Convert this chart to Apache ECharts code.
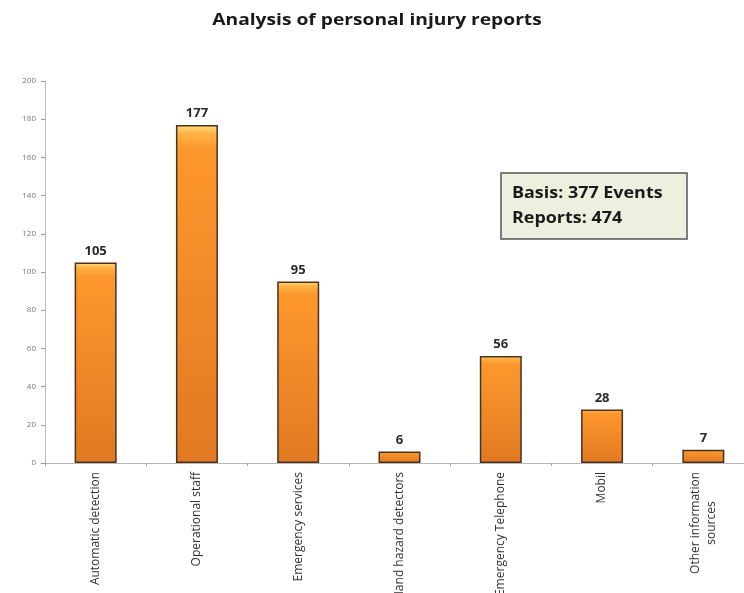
<!DOCTYPE html>
<html>
<head>
<meta charset="utf-8">
<script src="https://cdn.jsdelivr.net/npm/echarts@6/dist/echarts.min.js"></script>
<style>
  html, body { margin: 0; padding: 0; background: #fff; }
  #chart { width: 744px; height: 593px; }
</style>
</head>
<body>
<div id="chart"></div>
<script>
// Report sources and the number of personal injury reports from each
const categories = [
  'Automatic detection',
  'Operational staff',
  'Emergency services',
  'Hand hazard detectors',
  'Emergency Telephone',
  'Mobil',
  'Other information\nsources'
];
const reportCounts = [105, 177, 95, 6, 56, 28, 7];
const yTicks = { min: 0, max: 200, interval: 20 };
const chartTitle = 'Analysis of personal injury reports';
const summaryLines = ['Basis: 377 Events', 'Reports: 474'];

const chart = echarts.init(document.getElementById('chart'), null, { renderer: 'canvas' });

const barFill = new echarts.graphic.LinearGradient(0, 0, 0, 1, [
  { offset: 0, color: '#ffe07a' },
  { offset: 0.025, color: '#ffb347' },
  { offset: 0.07, color: '#fd982d' },
  { offset: 1, color: '#e07922' }
]);

// Multi-line category names are centred line by line
const labelFormatter = function (value) {
  return value.split('\n').map(function (line) { return '{c|' + line + '}'; }).join('\n');
};

chart.setOption({
  animation: false,
  grid: {
    left: 45, top: 81, width: 709, height: 382,
    containLabel: false,
    outerBoundsMode: 'none'
  },
  xAxis: {
    type: 'category',
    data: categories,
    axisLine: { lineStyle: { color: '#b8b8b8', width: 1 } },
    axisTick: { show: true, length: 3, lineStyle: { color: '#9a9a9a' } },
    axisLabel: {
      rotate: 90,
      interval: 0,
      margin: 9,
      fontFamily: 'Open Sans',
      fontSize: 12,
      color: '#333',
      formatter: labelFormatter,
      rich: {
        c: {
          fontFamily: 'Open Sans',
          fontSize: 12,
          color: '#333',
          lineHeight: 16,
          align: 'center'
        }
      }
    }
  },
  yAxis: {
    type: 'value',
    min: yTicks.min,
    max: yTicks.max,
    interval: yTicks.interval,
    axisLine: { show: true, lineStyle: { color: '#b8b8b8', width: 1 } },
    axisTick: { show: true, length: 4, lineStyle: { color: '#9a9a9a' } },
    splitLine: { show: false },
    axisLabel: {
      fontFamily: 'Open Sans',
      fontSize: 8,
      color: '#777',
      margin: 9
    }
  },
  series: [{
    type: 'bar',
    data: reportCounts,
    barWidth: 42,
    itemStyle: {
      color: barFill,
      borderColor: '#4a3220',
      borderWidth: 1.5
    },
    label: {
      show: true,
      position: 'top',
      distance: 5,
      fontFamily: 'Open Sans',
      fontWeight: 'bold',
      fontSize: 13,
      color: '#2a2a2a'
    }
  }],
  graphic: [
    {
      type: 'text',
      x: 377,
      y: 20,
      scaleX: 1.2,
      style: {
        text: chartTitle,
        fontFamily: 'Open Sans',
        fontWeight: 'bold',
        fontSize: 16,
        fill: '#1a1a1a',
        align: 'center',
        verticalAlign: 'middle'
      }
    },
    {
      type: 'group',
      x: 501,
      y: 173,
      children: [
        {
          type: 'rect',
          shape: { x: 0, y: 0, width: 186, height: 66 },
          style: { fill: '#eef0df', stroke: '#555', lineWidth: 1.5 }
        },
        {
          type: 'text',
          x: 11, y: 20,
          scaleX: 1.12,
          style: {
            text: summaryLines[0],
            fontFamily: 'Open Sans',
            fontWeight: 'bold',
            fontSize: 16,
            fill: '#1a1a1a',
            verticalAlign: 'middle'
          }
        },
        {
          type: 'text',
          x: 11, y: 45,
          scaleX: 1.12,
          style: {
            text: summaryLines[1],
            fontFamily: 'Open Sans',
            fontWeight: 'bold',
            fontSize: 16,
            fill: '#1a1a1a',
            verticalAlign: 'middle'
          }
        }
      ]
    }
  ]
});
</script>
</body>
</html>
